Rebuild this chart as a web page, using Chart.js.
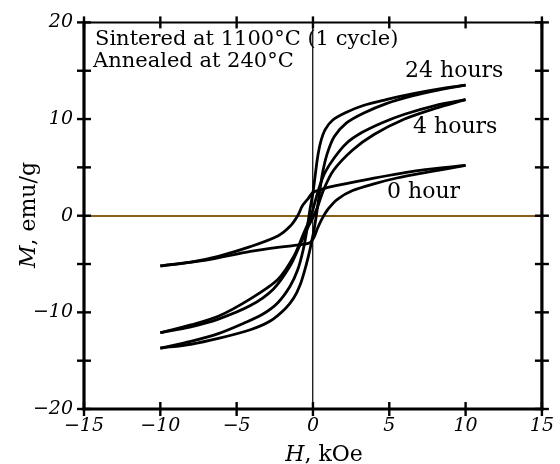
<!DOCTYPE html>
<html>
<head>
<meta charset="utf-8">
<script src="https://cdn.jsdelivr.net/npm/chart.js@4.4.1/dist/chart.umd.min.js"></script>
<style>
  html, body { margin: 0; padding: 0; background: #fff; }
  #wrap { width: 560px; height: 464px; position: relative; }
</style>
</head>
<body>
<div id="wrap"><canvas id="loopChart"></canvas></div>
<script>
// axis ticks
var hTicks = [-15, -10, -5, 0, 5, 10, 15];
var mTicks = [-20, -10, 0, 10, 20];

// 24 hours loop (H in kOe, M in emu/g)
var h24Down = [10, 8.2, 6.5, 4.8, 3.3, 2.2, 1.3, 0.8, 0.5, 0.3, 0.15, 0, -0.2, -0.4, -0.65, -1.0, -1.5, -2.3, -3.3, -4.5, -6.2, -8, -10];
var m24Down = [13.5, 13.1, 12.6, 12.0, 11.4, 10.7, 9.9, 8.9, 7.6, 6.0, 4.2, 2.4, 0.6, -1.5, -3.6, -5.6, -7.3, -9.0, -10.2, -11.1, -12.2, -13.0, -13.7];
var h24Up = [-10, -8, -6.2, -4.1, -2.8, -1.8, -1.25, -0.85, -0.55, -0.3, -0.1, 0.1, 0.3, 0.45, 0.65, 0.95, 1.4, 2.2, 3.3, 4.8, 6.5, 8.2, 10];
var m24Up = [-13.7, -13.3, -12.7, -11.8, -10.9, -9.6, -8.5, -7.2, -5.7, -4.2, -2.8, -1.2, 0.9, 2.6, 4.6, 6.5, 8.2, 9.6, 10.6, 11.6, 12.4, 13.0, 13.5];

// 4 hours loop
var h4Down = [10, 8, 6, 4.5, 3.2, 2.2, 1.4, 0.8, 0.45, 0.2, -0.05, -0.3, -0.6, -1.25, -2.3, -4.1, -6.2, -8, -10];
var m4Down = [12.0, 11.4, 10.5, 9.6, 8.6, 7.5, 6.0, 4.5, 3.1, 1.8, 0.4, -0.7, -1.8, -4.2, -6.6, -8.6, -10.4, -11.3, -12.1];
var h4Up = [-10, -8, -6.2, -4.1, -2.6, -1.5, -0.9, -0.45, 0.05, 0.3, 0.7, 1.35, 2.6, 4, 6, 8, 10];
var m4Up = [-12.1, -11.5, -10.7, -9.3, -7.6, -5.2, -3.2, -1.6, 0.0, 0.9, 2.7, 4.7, 6.8, 8.4, 10.0, 11.1, 12.0];

// 0 hour loop
var h0Down = [10, 7, 4, 1.5, 0.5, 0, -0.3, -0.7, -1.0, -1.5, -2.3, -4.1, -6.2, -8, -10];
var m0Down = [5.2, 4.7, 3.9, 3.1, 2.7, 2.4, 1.8, 1.0, 0, -1.1, -2.1, -3.2, -4.2, -4.8, -5.2];
var h0Up = [-10, -7, -4.1, -1.9, -0.8, -0.2, 0.05, 0.3, 0.6, 1.0, 1.6, 2.6, 4, 5.5, 7.5, 10];
var m0Up = [-5.2, -4.6, -3.7, -3.2, -3.0, -2.8, -2.3, -1.3, -0.3, 0.7, 1.7, 2.6, 3.3, 3.9, 4.5, 5.2];

function pts(hs, ms) {
    return hs.map(function(h, i) { return {x: h, y: ms[i]}; });
}

function branch(hs, ms) {
    return {
        data: pts(hs, ms),
        showLine: true,
        borderColor: '#000',
        borderWidth: 2.8,
        pointRadius: 0,
        tension: 0.3,
        fill: false
    };
}

function minus(v) {
    return String(v).replace('-', '\u2212');
}

var serif = '"DejaVu Serif", "Liberation Serif", serif';

// frame with ticks crossing the axes, plus the texts
var framePlugin = {
    id: 'frame',
    afterDraw: function(chart) {
        var c = chart.ctx, a = chart.chartArea;
        var xs = chart.scales.x, ys = chart.scales.y;
        c.save();
        c.strokeStyle = '#000';
        c.lineCap = 'butt';

        c.lineWidth = 2;
        c.beginPath(); c.moveTo(a.left, a.top); c.lineTo(a.right, a.top); c.stroke();
        c.lineWidth = 3.2;
        c.beginPath(); c.moveTo(a.left, a.top - 1); c.lineTo(a.left, a.bottom + 1.5); c.stroke();
        c.beginPath(); c.moveTo(a.right, a.top - 1); c.lineTo(a.right, a.bottom + 1.5); c.stroke();
        c.lineWidth = 3;
        c.beginPath(); c.moveTo(a.left - 1.5, a.bottom); c.lineTo(a.right + 1.5, a.bottom); c.stroke();

        c.lineWidth = 2.4;
        for (var h = -15; h <= 15; h += 5) {
            var px = xs.getPixelForValue(h);
            c.beginPath(); c.moveTo(px, a.bottom - 7); c.lineTo(px, a.bottom + 7); c.stroke();
            c.beginPath(); c.moveTo(px, a.top - 6); c.lineTo(px, a.top + 6); c.stroke();
        }
        for (var m = -20; m <= 20; m += 5) {
            var py = ys.getPixelForValue(m);
            c.beginPath(); c.moveTo(a.left - 7, py); c.lineTo(a.left + 7, py); c.stroke();
            c.beginPath(); c.moveTo(a.right - 7, py); c.lineTo(a.right + 7, py); c.stroke();
        }

        c.fillStyle = '#000';
        c.textBaseline = 'alphabetic';
        c.textAlign = 'left';
        c.font = '21px ' + serif;
        c.fillText('Sintered at 1100\u00b0C (1 cycle)', 95, 45);
        c.fillText('Annealed at 240\u00b0C', 93, 67);

        c.font = '22px ' + serif;
        c.fillText('24 hours', 405, 77);
        c.fillText('4 hours', 413, 133);
        c.fillText('0 hour', 387, 198);

        // x title: italic H then ", kOe"
        c.font = 'italic 22px ' + serif;
        var wH = c.measureText('H').width;
        c.font = '22px ' + serif;
        var wRest = c.measureText(', kOe').width;
        var x0 = 324 - (wH + wRest) / 2;
        c.font = 'italic 22px ' + serif;
        c.fillText('H', x0, 461);
        c.font = '22px ' + serif;
        c.fillText(', kOe', x0 + wH, 461);

        // y title, rotated
        c.translate(35, 215);
        c.rotate(-Math.PI / 2);
        c.font = 'italic 22px ' + serif;
        var wM = c.measureText('M').width;
        c.font = '22px ' + serif;
        var wR = c.measureText(', emu/g').width;
        var y0 = -(wM + wR) / 2;
        c.font = 'italic 22px ' + serif;
        c.fillText('M', y0, 0);
        c.font = '22px ' + serif;
        c.fillText(', emu/g', y0 + wM, 0);
        c.restore();
    }
};

document.addEventListener("DOMContentLoaded", function() {
    var ctx = document.getElementById('loopChart').getContext('2d');
    var loopChart = new Chart(ctx, {
        type: 'scatter',
        data: {
            datasets: [
                branch(h24Down, m24Down),
                branch(h24Up, m24Up),
                branch(h4Down, m4Down),
                branch(h4Up, m4Up),
                branch(h0Down, m0Down),
                branch(h0Up, m0Up)
            ]
        },
        options: {
            responsive: true,
            maintainAspectRatio: false,
            animation: false,
            layout: { padding: { top: 19, right: 14, left: 0, bottom: 0 } },
            plugins: {
                legend: { display: false },
                tooltip: { enabled: false }
            },
            scales: {
                x: {
                    type: 'linear',
                    min: hTicks[0],
                    max: hTicks[hTicks.length - 1],
                    afterBuildTicks: function(s) { s.ticks = hTicks.map(function(v) { return {value: v}; }); },
                    afterFit: function(s) { s.height = 55; },
                    border: { display: false },
                    grid: {
                        drawTicks: false,
                        lineWidth: 1.4,
                        color: function(c) { return c.tick && c.tick.value === 0 ? '#222' : 'rgba(0,0,0,0)'; }
                    },
                    ticks: {
                        padding: 6,
                        maxRotation: 0,
                        color: '#000',
                        font: { family: serif, size: 19, style: 'italic' },
                        callback: function(v) { return minus(v); }
                    }
                },
                y: {
                    min: mTicks[0],
                    max: mTicks[mTicks.length - 1],
                    afterBuildTicks: function(s) { s.ticks = mTicks.map(function(v) { return {value: v}; }); },
                    afterFit: function(s) { s.width = 84; },
                    border: { display: false },
                    grid: {
                        drawTicks: false,
                        lineWidth: 2,
                        color: function(c) { return c.tick && c.tick.value === 0 ? '#8b5e1a' : 'rgba(0,0,0,0)'; }
                    },
                    ticks: {
                        padding: 11,
                        color: '#000',
                        font: { family: serif, size: 19, style: 'italic' },
                        callback: function(v) { return minus(v); }
                    }
                }
            }
        },
        plugins: [framePlugin]
    });
});
</script>
</body>
</html>
